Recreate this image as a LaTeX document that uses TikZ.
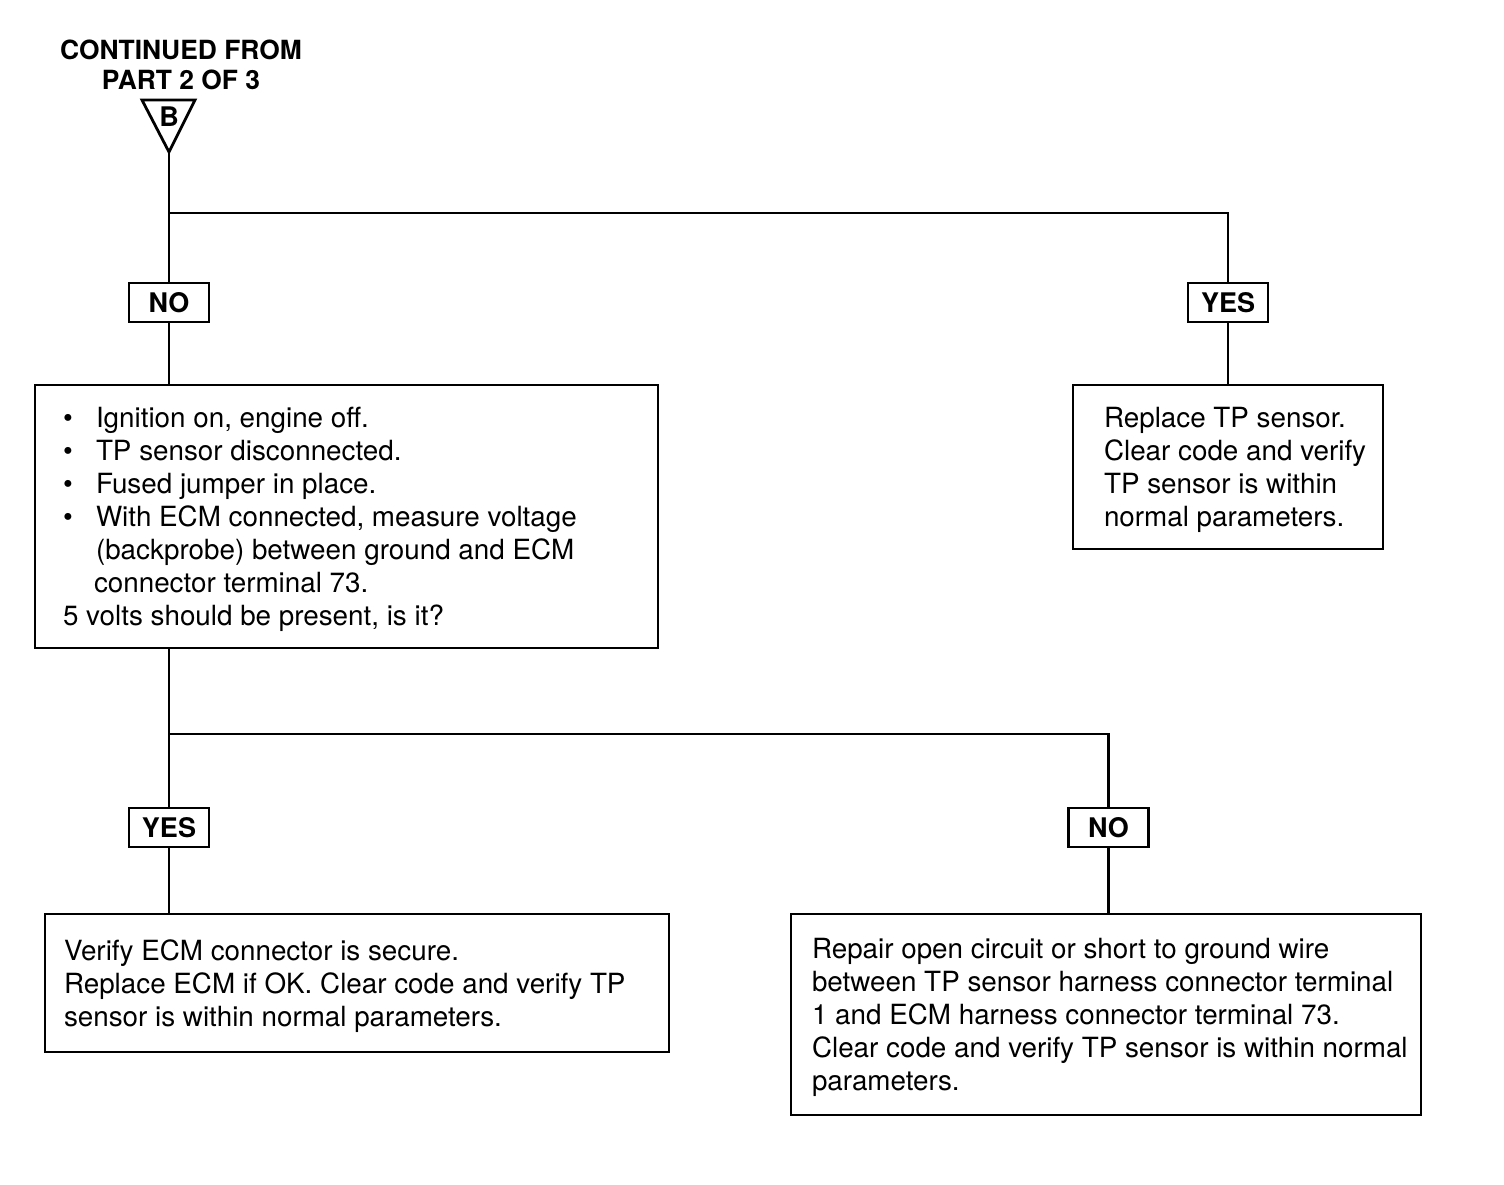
\documentclass[tikz,border=0pt]{standalone}
\usepackage{fontspec}
\setmainfont{TeX Gyre Heros}
\begin{document}
\begin{tikzpicture}[x=0.5pt,y=-0.5pt,line width=1.4pt,
  lbl/.style={draw,line width=1.4pt,font=\bfseries\fontsize{13.5}{16}\selectfont,minimum width=40pt,minimum height=19.5pt,inner sep=0pt},
  box/.style={draw,line width=1.4pt,inner sep=0pt},
  txt/.style={anchor=west,align=left,inner sep=0pt,yshift=-1.5pt,font=\fontsize{13.9}{16.5}\selectfont},
  head/.style={align=center,inner sep=0pt,font=\bfseries\fontsize{13.2}{15}\selectfont}]
\useasboundingbox (0,0) rectangle (1504,1184);
% header
\node[head] (hdr) at (181,65) {CONTINUED FROM\\PART 2 OF 3};
\coordinate (tri) at (169,152);
\draw[line join=miter] (142,100) -- (195,100) -- (tri) -- cycle;
\node[font=\bfseries\fontsize{13.5}{16}\selectfont,inner sep=0pt] (B) at (169,117) {B};
% first decision
\coordinate (j1) at (169,213);
\node[lbl] (no1) at (169,302.5) {NO};
\node[lbl] (yes1) at (1228,302.5) {YES};
\node[box,minimum width=311.5pt,minimum height=131.5pt] (q) at (346.5,516.5) {};
\node[txt] (qt) at ([xshift=14pt]q.west) {%
\makebox[16.5pt][l]{•}Ignition on, engine off.\\
\makebox[16.5pt][l]{•}TP sensor disconnected.\\
\makebox[16.5pt][l]{•}Fused jumper in place.\\
\makebox[16.5pt][l]{•}With ECM connected, measure voltage\\
\hspace*{16.5pt}(backprobe) between ground and ECM\\
\hspace*{15.5pt}connector terminal 73.\\
5 volts should be present, is it?};
\node[box,minimum width=155pt,minimum height=82pt] (r1) at (1228,467) {};
\node[txt] (r1t) at ([xshift=15.5pt]r1.west) {Replace TP sensor.\\Clear code and verify\\TP sensor is within\\normal parameters.};
% second decision
\coordinate (j2) at (169,734);
\node[lbl] (yes2) at (169,827.5) {YES};
\node[lbl] (no2) at (1108.5,827.5) {NO};
\node[box,minimum width=312pt,minimum height=69pt] (b1) at (357,983) {};
\node[txt] (b1t) at ([xshift=9.5pt]b1.west) {Verify ECM connector is secure.\\Replace ECM if OK. Clear code and verify TP\\sensor is within normal parameters.};
\node[box,minimum width=315pt,minimum height=100.5pt] (b2) at (1106,1014.5) {};
\node[txt] (b2t) at ([xshift=10.5pt]b2.west) {Repair open circuit or short to ground wire\\between TP sensor harness connector terminal\\1 and ECM harness connector terminal 73.\\Clear code and verify TP sensor is within normal\\parameters.};
% connectors
\draw (tri) -- (no1.north);
\draw (j1) -| (yes1.north);
\draw (no1.south) -- (no1.south |- q.north);
\draw (yes1.south) -- (yes1.south |- r1.north);
\draw (no1.south |- q.south) -- (yes2.north);
\draw (j2) -| (no2.north);
\draw (yes2.south) -- (yes2.south |- b1.north);
\draw (no2.south) -- (no2.south |- b2.north);
\end{tikzpicture}
\end{document}
